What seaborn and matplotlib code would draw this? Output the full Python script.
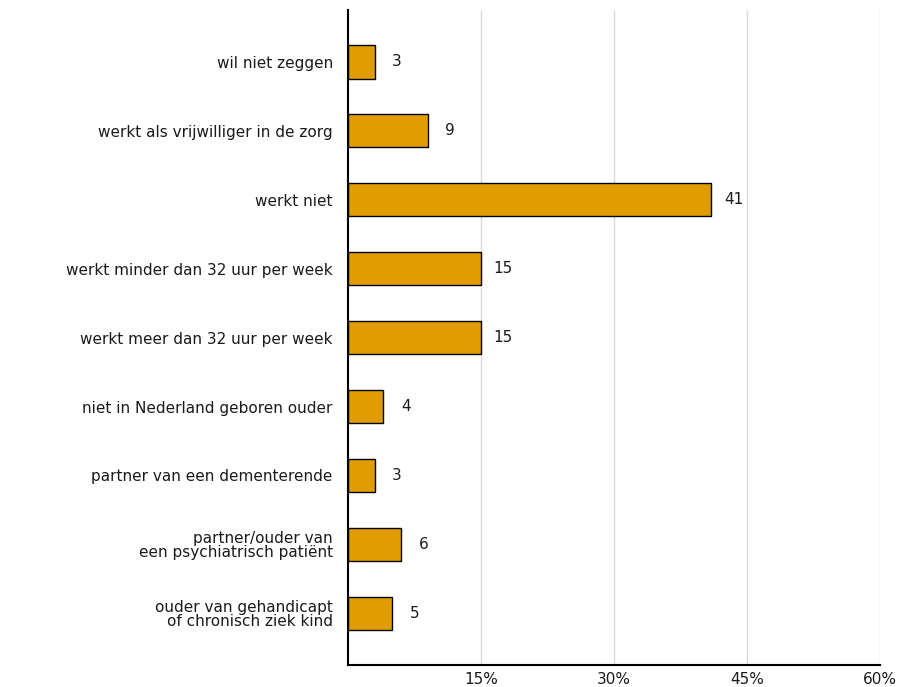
import pandas as pd
import seaborn as sns
import matplotlib.pyplot as plt
from matplotlib.ticker import FixedLocator

# categories top to bottom
categories = [
    'wil niet zeggen',
    'werkt als vrijwilliger in de zorg',
    'werkt niet',
    'werkt minder dan 32 uur per week',
    'werkt meer dan 32 uur per week',
    'niet in Nederland geboren ouder',
    'partner van een dementerende',
    'partner/ouder van\neen psychiatrisch patiënt',
    'ouder van gehandicapt\nof chronisch ziek kind',
]
values = [3, 9, 41, 15, 15, 4, 3, 6, 5]
xticks = [15, 30, 45, 60]
xtick_labels = ['15%', '30%', '45%', '60%']

df = pd.DataFrame({'groep': categories, 'pct': values})

sns.set_style('white')
plt.rcParams['font.family'] = ['DejaVu Sans']

fig = plt.figure(figsize=(9.04, 6.87), dpi=100)
ax = fig.add_axes([0.385, 0.032, 0.588, 0.953])

sns.barplot(data=df, x='pct', y='groep', orient='h', color='#e09c00',
            edgecolor='black', linewidth=1, width=0.48, saturation=1, ax=ax)

# value labels next to the bars
for i, v in enumerate(values):
    ax.annotate(str(v), xy=(v, i), xytext=(16, 0), textcoords='offset points',
                ha='center', va='center', fontsize=11, color='#1a1a1a')

ax.set_xlim(0, 60)
ax.set_ylim(8.75, -0.75)
ax.xaxis.set_major_locator(FixedLocator(xticks))
ax.set_xticklabels(xtick_labels, fontsize=11, color='#1a1a1a')
ax.set_yticks(range(len(categories)))
ax.set_yticklabels(categories, fontsize=11, color='#1a1a1a', linespacing=0.95)
ax.tick_params(axis='y', length=0, pad=11)
ax.tick_params(axis='x', length=0, pad=5)
ax.set_xlabel('')
ax.set_ylabel('')
ax.grid(axis='x', color='#d9d9d9', linewidth=1)
ax.set_axisbelow(True)
for side in ['top', 'right']:
    ax.spines[side].set_visible(False)
ax.spines['left'].set_color('black')
ax.spines['left'].set_linewidth(1.5)
ax.spines['bottom'].set_color('black')
ax.spines['bottom'].set_linewidth(1.5)

fig.savefig('out.png', dpi=100)
